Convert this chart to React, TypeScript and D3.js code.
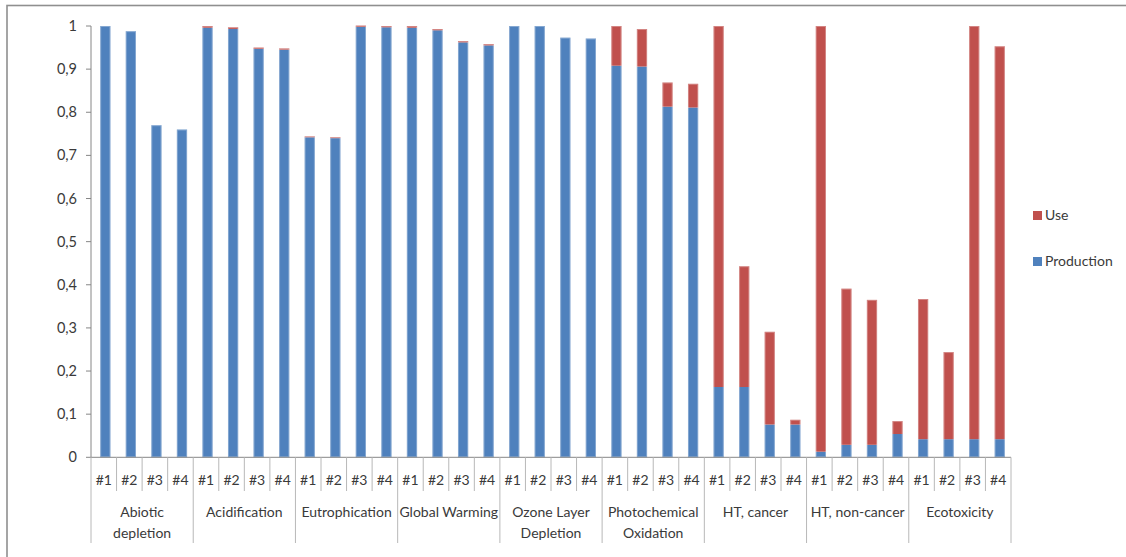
import React from "react";
import * as d3 from "d3";

// Impact categories and scenarios
const categories: string[][] = [
  ["Abiotic", "depletion"],
  ["Acidification"],
  ["Eutrophication"],
  ["Global Warming"],
  ["Ozone Layer", "Depletion"],
  ["Photochemical", "Oxidation"],
  ["HT, cancer"],
  ["HT, non-cancer"],
  ["Ecotoxicity"],
];
const scenarios = ["#1", "#2", "#3", "#4"];

// Normalised contributions per category, scenarios #1..#4 in order
const production = [
  1.0, 0.988, 0.77, 0.76,
  0.996, 0.993, 0.947, 0.945,
  0.742, 0.74, 0.998, 0.997,
  0.996, 0.99, 0.962, 0.955,
  1.0, 1.0, 0.973, 0.971,
  0.908, 0.906, 0.813, 0.811,
  0.163, 0.163, 0.076, 0.076,
  0.013, 0.029, 0.029, 0.054,
  0.042, 0.042, 0.042, 0.042,
];
const use = [
  0, 0, 0, 0,
  0.004, 0.004, 0.003, 0.003,
  0.002, 0.002, 0.003, 0.003,
  0.004, 0.003, 0.003, 0.003,
  0, 0, 0, 0,
  0.092, 0.087, 0.056, 0.055,
  0.837, 0.28, 0.215, 0.011,
  0.987, 0.362, 0.336, 0.03,
  0.325, 0.202, 0.958, 0.911,
];
const yTicks = [0, 0.1, 0.2, 0.3, 0.4, 0.5, 0.6, 0.7, 0.8, 0.9, 1];

const seriesNames = ["Production", "Use"];
const colors: Record<string, string> = { Production: "#4F81BD", Use: "#C0504D" };

const W = 1126;
const H = 557;
const FONT = "Lato, 'Open Sans', sans-serif";
const TEXT = "#3a3a3a";
const AXIS = "#868686";

export default function App() {
  const left = 91;
  const right = 1011;
  const y0 = 457.3;
  const y1 = 26;

  const rows = production.map((p, i) => ({
    key: `${i}`,
    cat: Math.floor(i / 4),
    sc: scenarios[i % 4],
    Production: p,
    Use: use[i],
  }));

  const x = d3
    .scaleBand<string>()
    .domain(rows.map((r) => r.key))
    .range([left, right])
    .paddingInner(0.6)
    .paddingOuter(0.3)
    .align(0.6);
  const step = (right - left) / rows.length;

  const y = d3.scaleLinear().domain([0, 1]).range([y0, y1]);

  const stack = d3.stack<any>().keys(seriesNames)(rows);

  const fmt = (v: number) => (v === 0 ? "0" : v === 1 ? "1" : d3.format(".1f")(v).replace(".", ","));

  return (
    <svg
      width={W}
      height={H}
      style={{ position: "absolute", left: 0, top: 0, background: "#fff" }}
      fontFamily={FONT}
    >
      {/* chart frame */}
      <rect x={7} y={5.5} width={W + 10} height={H + 10} fill="none" stroke="#8f8f8f" strokeWidth={1.6} />

      {/* bars */}
      {stack.map((s) => (
        <g key={s.key} fill={colors[s.key]}>
          {s.map((d, i) => {
            const h = y(d[0]) - y(d[1]);
            if (h <= 0) return null;
            return <rect key={i} x={x(rows[i].key)} y={y(d[1])} width={x.bandwidth()} height={h} />;
          })}
        </g>
      ))}
      {rows.map((r) => (
        <rect
          key={"o" + r.key}
          x={(x(r.key) as number) + 0.5}
          y={y(r.Production + r.Use) + 0.5}
          width={x.bandwidth() - 1}
          height={y(0) - y(r.Production + r.Use) - 1}
          fill="none"
          stroke="#ffffff"
          strokeOpacity={0.3}
          strokeWidth={1}
        />
      ))}

      {/* y axis */}
      <line x1={left} x2={left} y1={y(1)} y2={y0} stroke={AXIS} strokeWidth={1} />
      {yTicks.map((t) => (
        <g key={t}>
          <line x1={left - 5} x2={left} y1={y(t)} y2={y(t)} stroke={AXIS} />
          <text x={77} y={y(t)} dy="0.35em" textAnchor="end" fontSize={14.5} fill={TEXT}>
            {fmt(t)}
          </text>
        </g>
      ))}

      {/* x axis */}
      <line x1={left} x2={right} y1={y0} y2={y0} stroke={AXIS} strokeWidth={1} />
      {d3.range(rows.length + 1).map((i) => {
        const xx = left + i * step;
        const major = i % 4 === 0;
        return (
          <line key={"d" + i} x1={xx} x2={xx} y1={y0} y2={major ? 543 : 491} stroke="#b8b8b8" strokeWidth={1} />
        );
      })}
      {rows.map((r, i) => (
        <text
          key={"s" + i}
          x={left + (i + 0.5) * step}
          y={480}
          dy="0.35em"
          textAnchor="middle"
          fontSize={14}
          fill={TEXT}
        >
          {r.sc}
        </text>
      ))}
      {categories.map((c, ci) => (
        <text
          key={"c" + ci}
          x={left + (ci * 4 + 2) * step}
          y={512}
          textAnchor="middle"
          fontSize={14}
          fill={TEXT}
        >
          {c.map((line, li) => (
            <tspan key={li} x={left + (ci * 4 + 2) * step} dy={li === 0 ? "0.35em" : 21}>
              {line}
            </tspan>
          ))}
        </text>
      ))}

      {/* legend */}
      {["Use", "Production"].map((name, i) => (
        <g key={name} transform={`translate(1033, ${211 + i * 46})`}>
          <rect width={9} height={9} fill={colors[name]} />
          <text x={12} y={4.5} dy="0.35em" fontSize={14} fill={TEXT}>
            {name}
          </text>
        </g>
      ))}
    </svg>
  );
}
